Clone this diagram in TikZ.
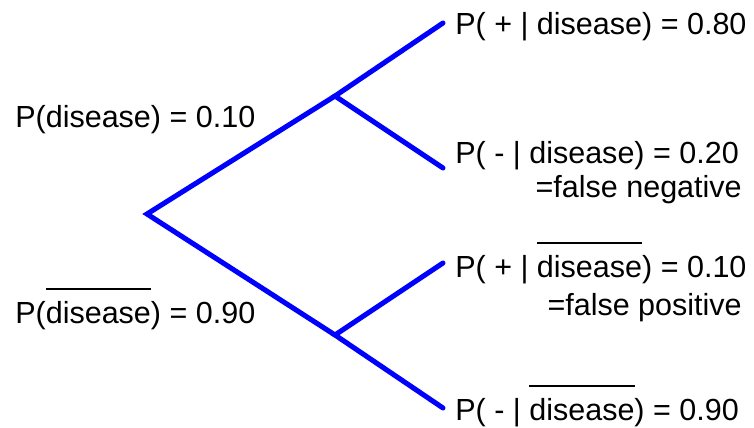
\documentclass[tikz,border=0pt]{standalone}
\usepackage{amsmath}
\usepackage{fontspec}
\setmainfont{Liberation Sans}
\newcommand{\notdis}{\ensuremath{\overline{\rule{0pt}{0.98em}\text{disease}}}}

\begin{document}
\begin{tikzpicture}[x=0.025cm,y=-0.025cm,line cap=round,font=\fontsize{21.7}{26}\selectfont,
  branch/.style={draw=blue,line width=3.6pt},
  lbl/.style={inner sep=0pt,anchor=base west},
  note/.style={inner sep=0pt,anchor=base east}]
\useasboundingbox (0,0) rectangle (754,427);
\coordinate (root) at (147,214);
\coordinate (up) at (335,96);
\coordinate (lo) at (335,335);
\coordinate (pp) at (443,23);
\coordinate (pm) at (443,168);
\coordinate (np) at (443,263);
\coordinate (nm) at (443,408);
\draw[branch] (pp) -- (up) -- (pm);
\draw[branch] (up) -- (root) -- (lo);
\draw[branch] (np) -- (lo) -- (nm);
\node[lbl] (pdis) at (15,127) {P(disease) = 0.10};
\node[lbl] (pnot) at (15,323) {P(\notdis) = 0.90};
\node[lbl] (tpp) at (455,35) {P( + | disease) = 0.80};
\node[lbl] (tpm) at (455,163) {P( - | disease) = 0.20};
\node[note] (fneg) at (742,197) {=false negative};
\node[lbl] (tnp) at (455,277) {P( + | \notdis) = 0.10};
\node[note] (fpos) at (742,315) {=false positive};
\node[lbl] (tnm) at (455,420) {P( - | \notdis) = 0.90};
\end{tikzpicture}
\end{document}
